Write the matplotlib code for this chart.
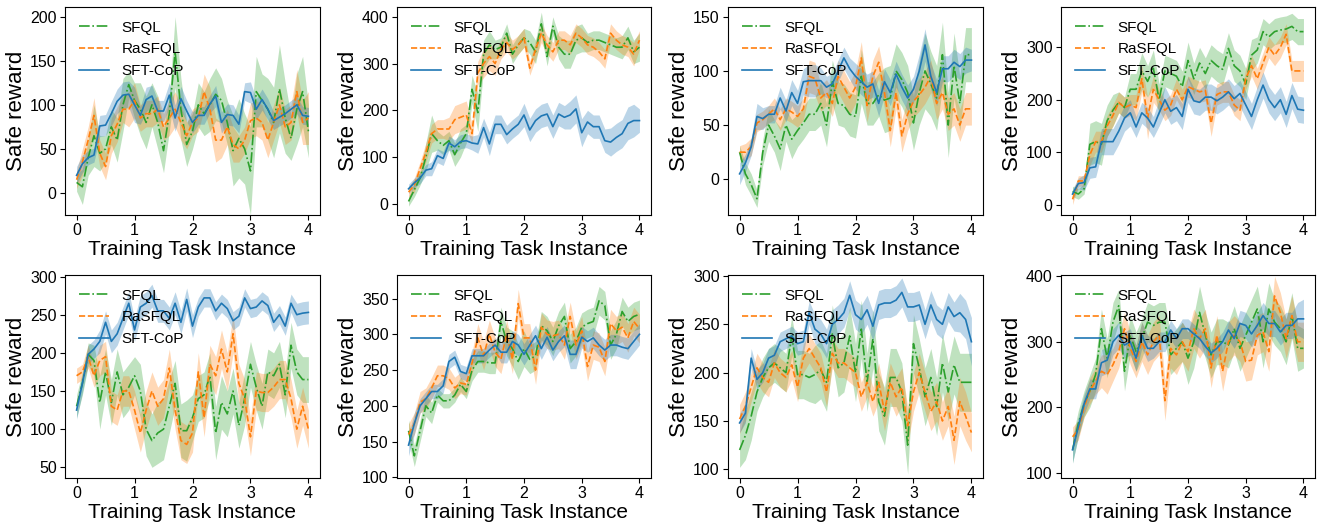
import numpy as np
import matplotlib
matplotlib.use('Agg')
from matplotlib import pyplot as plt

plt.rcParams['font.family'] = ['Liberation Sans', 'DejaVu Sans']

# training task instance axis (41 evaluation points)
x = np.arange(41) / 10.0

labels = ['SFQL', 'RaSFQL', 'SFT-CoP']

# ---------------- panel 1 ----------------
sfql_1 = [12,7,40,65,45,50,75,60,100,123,105,95,80,100,80,48,90,160,95,55,70,100,90,100,112,105,80,48,62,50,25,115,105,95,80,118,85,62,95,115,70]
rasfql_1 = [15,35,60,88,45,30,65,78,95,95,105,85,90,90,95,75,85,95,80,65,80,85,115,95,60,60,75,55,50,60,82,85,80,60,80,100,75,80,115,80,85]
sftcop_1 = [20,33,40,43,76,77,90,104,111,112,100,88,106,110,93,93,111,85,107,93,80,88,88,101,110,80,89,88,78,115,114,95,106,95,82,86,90,95,100,88,87]
sfql_1_sd = [10,20,20,35,20,15,20,25,30,15,20,30,30,25,30,25,20,40,35,25,20,25,25,30,30,25,25,40,45,40,50,40,30,35,40,50,40,25,40,40,30]
rasfql_1_sd = [10,15,15,20,15,15,20,20,15,20,20,15,15,15,15,15,20,20,20,15,15,15,20,25,25,20,20,20,15,15,20,20,20,20,20,20,20,20,25,25,30]
sftcop_1_sd = [10,10,8,8,12,12,14,14,15,15,20,10,14,12,12,12,14,15,14,12,12,10,10,10,12,12,12,12,10,10,12,12,12,12,10,10,10,10,10,10,10]

# ---------------- panel 2 ----------------
sfql_2 = [5,30,55,100,150,135,125,135,105,130,150,245,195,320,340,330,335,365,320,340,355,345,325,385,315,380,335,320,320,350,355,345,350,350,345,340,335,335,355,325,335]
rasfql_2 = [25,40,75,110,150,160,160,160,180,185,190,150,280,300,315,300,330,345,330,340,355,290,330,365,340,325,350,350,340,365,355,340,335,325,310,365,350,340,335,320,350]
sftcop_2 = [32,45,55,72,75,103,97,130,122,133,135,130,128,163,128,170,170,148,160,170,190,158,178,188,192,165,192,185,190,203,152,175,165,165,135,132,142,150,172,178,178]
sfql_2_sd = [10,15,15,30,40,20,20,20,25,30,20,30,40,30,30,20,20,20,20,20,20,25,25,25,20,20,25,30,30,30,30,20,20,20,20,20,20,25,25,25,30]
rasfql_2_sd = [10,15,15,20,20,20,20,25,30,30,30,20,25,30,30,25,20,20,20,20,20,15,20,20,20,20,20,20,20,20,20,20,20,20,20,20,20,20,20,25,20]
sftcop_2_sd = [10,10,12,12,15,15,15,15,15,15,15,15,20,20,25,20,20,20,20,20,25,25,25,25,25,25,25,25,30,30,30,25,25,25,25,30,30,30,35,35,25]

# ---------------- panel 3 ----------------
sfql_3 = [25,5,-5,-18,25,50,40,28,50,37,45,52,60,60,70,50,90,70,68,60,58,95,70,70,78,73,75,100,92,80,52,80,100,88,75,115,50,105,70,115,115]
rasfql_3 = [25,25,30,52,55,60,65,55,65,62,58,65,95,93,75,80,70,95,85,75,85,112,68,95,108,80,45,80,40,60,72,78,85,95,70,80,60,65,50,65,65]
sftcop_3 = [5,15,30,58,56,60,60,75,63,80,70,90,91,91,91,85,88,100,112,102,95,90,85,88,70,90,80,97,85,75,83,100,124,95,80,102,102,108,104,110,110]
sfql_3_sd = [6,10,10,8,12,15,15,20,15,18,15,15,15,15,20,20,20,20,20,20,20,25,20,20,20,30,30,25,25,25,25,30,35,30,30,30,30,30,25,25,25]
rasfql_3_sd = [6,8,8,8,8,8,10,10,10,10,10,10,15,15,12,12,12,15,15,15,15,15,15,15,15,15,15,15,15,15,15,15,15,15,15,15,15,15,15,15,15]
sftcop_3_sd = [10,8,8,12,10,8,8,10,10,12,12,12,15,15,12,10,10,10,10,10,12,12,12,12,12,12,12,12,12,12,12,15,15,12,12,12,12,12,12,12,10]

# ---------------- panel 4 ----------------
sfql_4 = [25,20,30,115,120,115,160,180,195,185,220,220,255,235,260,200,255,250,245,225,275,240,270,250,275,265,258,298,265,255,230,285,295,330,320,330,333,335,340,330,330]
rasfql_4 = [10,45,45,95,120,120,150,170,195,185,190,185,240,165,220,200,180,190,220,200,225,220,215,218,155,210,215,215,190,180,240,265,240,270,300,285,300,325,255,255,255]
sftcop_4 = [20,40,42,70,72,120,120,120,140,165,175,148,175,165,148,175,200,178,185,168,220,198,195,205,205,198,205,215,202,212,190,168,200,228,200,185,200,172,208,182,180]
sfql_4_sd = [10,10,10,40,40,40,30,30,20,20,30,30,35,30,35,30,30,30,30,30,35,30,30,30,30,30,30,30,30,30,30,30,25,25,25,25,25,25,25,25,25]
rasfql_4_sd = [10,10,10,20,20,20,20,20,20,20,20,25,25,40,25,20,20,20,20,20,20,20,20,20,25,20,20,20,20,20,20,20,20,20,20,20,20,20,20,20,20]
sftcop_4_sd = [10,10,15,20,20,25,25,25,25,25,25,20,20,20,20,25,25,25,25,25,25,25,25,25,25,25,25,25,25,25,25,25,25,25,25,25,25,25,25,25,25]

# ---------------- panel 5 ----------------
sfql_5 = [130,160,198,190,135,175,135,175,145,155,170,150,100,85,95,100,130,160,98,98,115,140,145,170,95,135,120,150,105,140,185,155,130,175,170,185,145,210,175,165,165]
rasfql_5 = [170,175,195,170,190,195,130,125,150,150,125,95,125,150,130,140,180,125,85,80,95,175,115,185,170,205,175,225,160,140,90,150,148,148,155,165,165,140,100,130,100]
sftcop_5 = [125,160,198,205,215,240,215,225,245,265,230,260,265,275,255,255,245,265,240,270,235,260,272,272,255,265,258,242,248,272,258,260,268,262,240,250,235,265,250,252,253]
sfql_5_sd = [15,15,15,20,35,30,30,30,30,30,25,35,35,35,40,40,35,30,35,40,30,30,30,30,35,35,30,30,30,35,30,30,30,30,30,30,30,30,30,30,30]
rasfql_5_sd = [10,10,15,15,20,20,20,20,20,20,25,25,25,25,25,25,25,25,25,25,25,25,25,25,25,25,25,25,25,25,25,25,25,25,25,25,25,25,25,25,25]
sftcop_5_sd = [12,12,12,12,15,15,15,15,15,15,15,15,15,15,15,15,15,15,15,15,15,12,12,12,12,12,12,12,12,12,12,12,12,12,12,12,12,12,15,15,15]

# ---------------- panel 6 ----------------
sfql_6 = [165,130,165,200,190,215,207,207,215,230,220,250,262,262,260,260,318,290,280,262,280,265,270,312,305,290,312,325,280,290,310,315,318,347,340,285,300,332,318,325,328]
rasfql_6 = [160,175,205,210,225,242,242,238,225,232,230,260,295,270,300,275,265,300,265,343,295,295,250,310,300,298,300,285,325,285,305,255,285,282,262,315,305,310,295,318,308]
sftcop_6 = [145,175,200,210,220,220,228,262,268,248,245,270,270,270,278,285,275,275,290,285,272,285,298,280,296,278,290,298,272,272,296,290,295,285,278,285,285,282,280,290,300]
sfql_6_sd = [15,15,15,15,15,10,10,10,10,10,10,15,15,15,15,15,20,20,25,25,25,20,20,20,20,20,20,20,20,20,20,20,20,20,20,20,20,20,20,20,20]
rasfql_6_sd = [15,15,15,15,15,15,15,15,15,15,15,15,20,20,20,20,20,20,20,20,20,20,20,20,20,20,20,20,20,20,20,20,20,20,20,20,20,20,20,20,20]
sftcop_6_sd = [15,15,10,10,10,10,10,10,10,10,10,10,10,10,10,10,15,15,15,15,15,15,15,15,15,15,15,15,20,20,15,15,15,15,15,15,15,15,15,15,15]

# ---------------- panel 7 ----------------
sfql_7 = [120,135,155,180,195,205,210,205,200,238,198,198,195,198,203,190,240,205,210,238,200,245,190,235,170,155,195,195,180,125,230,205,175,195,165,210,180,208,190,190,190]
rasfql_7 = [152,165,185,205,195,190,210,200,195,208,185,215,225,215,205,180,220,210,210,205,200,175,190,170,190,160,190,175,185,145,180,200,180,160,170,150,165,130,170,155,138]
sftcop_7 = [148,158,215,193,200,215,218,232,235,238,230,232,262,245,240,230,250,255,262,280,260,255,265,248,270,272,272,275,283,268,268,270,250,270,255,250,268,258,262,255,232]
sfql_7_sd = [18,25,25,20,20,20,20,20,20,20,25,25,25,30,30,30,30,30,30,30,30,30,30,30,30,30,30,30,30,30,30,30,30,30,30,30,30,30,30,30,30]
rasfql_7_sd = [15,15,15,15,15,15,15,15,15,15,15,15,15,15,15,15,15,15,15,15,15,15,15,15,20,20,20,20,20,20,20,20,20,20,20,20,20,25,25,25,20]
sftcop_7_sd = [10,10,10,10,10,10,10,10,10,10,12,12,12,15,15,15,15,15,15,15,15,15,15,15,15,15,15,15,15,15,15,15,15,15,15,15,15,15,20,20,25]

# ---------------- panel 8 ----------------
sfql_8 = [135,175,205,225,250,320,275,330,355,255,310,285,305,330,325,330,330,280,290,300,275,300,345,310,280,300,300,295,320,290,310,330,350,300,350,330,320,300,340,290,290]
rasfql_8 = [155,165,200,225,240,255,250,265,285,320,290,270,300,280,300,310,210,290,280,300,285,320,305,320,260,310,255,300,310,300,270,272,310,315,285,370,345,305,340,300,300]
sftcop_8 = [135,170,205,228,228,268,272,300,310,295,300,275,310,290,290,300,300,318,305,320,320,312,305,293,283,290,300,318,305,328,325,312,325,340,328,328,315,325,325,335,335]
sfql_8_sd = [20,20,20,25,25,30,30,30,25,30,30,30,30,30,30,30,30,30,30,30,40,40,40,35,35,35,35,35,35,35,35,35,35,40,40,35,35,35,35,35,30]
rasfql_8_sd = [15,15,15,20,20,25,30,25,25,25,25,25,30,30,30,30,30,30,30,30,30,30,30,30,30,30,30,30,30,30,30,30,30,30,30,30,30,30,30,30,30]
sftcop_8_sd = [20,15,15,15,15,20,20,20,20,20,20,20,20,20,15,15,15,15,15,15,15,15,15,15,15,15,15,15,15,20,20,20,20,20,20,20,20,20,20,25,30]

ylims = [(-25, 211), (-24, 421), (-33, 159), (-20, 377),
         (36, 302), (99, 383), (91, 301), (92, 402)]
yticks = [[0, 50, 100, 150, 200], [0, 100, 200, 300, 400], [0, 50, 100, 150], [0, 100, 200, 300],
          [50, 100, 150, 200, 250, 300], [100, 150, 200, 250, 300, 350],
          [100, 150, 200, 250, 300], [100, 200, 300, 400]]

panels = [
    (sfql_1, rasfql_1, sftcop_1, sfql_1_sd, rasfql_1_sd, sftcop_1_sd),
    (sfql_2, rasfql_2, sftcop_2, sfql_2_sd, rasfql_2_sd, sftcop_2_sd),
    (sfql_3, rasfql_3, sftcop_3, sfql_3_sd, rasfql_3_sd, sftcop_3_sd),
    (sfql_4, rasfql_4, sftcop_4, sfql_4_sd, rasfql_4_sd, sftcop_4_sd),
    (sfql_5, rasfql_5, sftcop_5, sfql_5_sd, rasfql_5_sd, sftcop_5_sd),
    (sfql_6, rasfql_6, sftcop_6, sfql_6_sd, rasfql_6_sd, sftcop_6_sd),
    (sfql_7, rasfql_7, sftcop_7, sfql_7_sd, rasfql_7_sd, sftcop_7_sd),
    (sfql_8, rasfql_8, sftcop_8, sfql_8_sd, rasfql_8_sd, sftcop_8_sd),
]

colors = ['tab:green', 'tab:orange', 'tab:blue']
styles = ['-.', '--', '-']

W, H = 1323, 525
fig = plt.figure(figsize=(W / 100, H / 100), dpi=100)

# axes boxes in pixels (left, top, right, bottom)
lefts = [65, 397, 728, 1061]
rights = [320, 651, 983, 1315]
tops = [7, 275]
bottoms = [215, 478]

for i, p in enumerate(panels):
    r, c = divmod(i, 4)
    ax = fig.add_axes([lefts[c] / W, 1 - bottoms[r] / H,
                       (rights[c] - lefts[c]) / W, (bottoms[r] - tops[r]) / H])
    means = p[:3]
    sds = p[3:]
    for m, s, col, ls, lab in zip(means, sds, colors, styles, labels):
        m = np.array(m, dtype=float)
        s = np.array(s, dtype=float)
        ax.fill_between(x, m - s, m + s, color=col, alpha=0.3, linewidth=0)
        ax.plot(x, m, ls, color=col, lw=1.2, label=lab)
    ax.set_xlim(-0.2, 4.2)
    ax.set_ylim(*ylims[i])
    ax.set_xticks([0, 1, 2, 3, 4])
    ax.set_yticks(yticks[i])
    ax.tick_params(labelsize=11.5, pad=2.5)
    ax.set_xlabel('Training Task Instance', fontsize=15, labelpad=1)
    ax.set_ylabel('Safe reward', fontsize=16, labelpad=2)
    ax.legend(loc='upper left', frameon=False, fontsize=11)

plt.savefig('out.png', dpi=100)
